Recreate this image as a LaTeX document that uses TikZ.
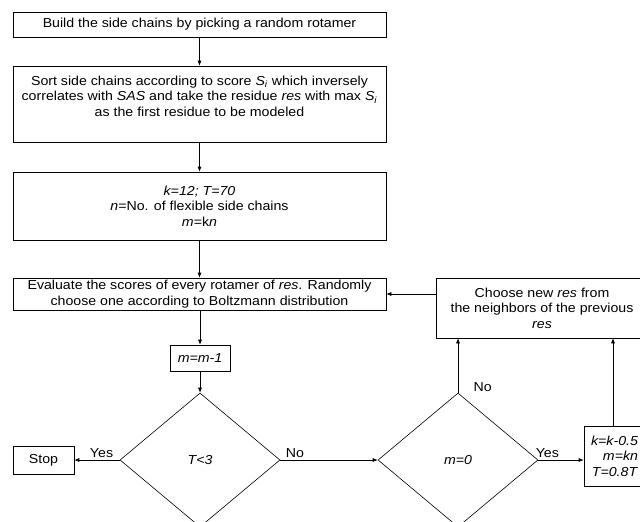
\documentclass[tikz,border=0pt]{standalone}
\usepackage{fontspec}
\setmainfont{Liberation Sans}[FakeStretch=1.09]
\usetikzlibrary{shapes.geometric,arrows.meta}

\tikzset{
  >={Latex[length=5pt,width=4pt]},
  every node/.style={font=\fontsize{13}{15.5}\selectfont},
  box/.style={draw, rectangle, inner sep=0pt, align=center},
  decision/.style={draw, diamond, inner sep=0pt, minimum width=160pt, minimum height=134pt},
  flow/.style={->, line width=0.6pt},
  lbl/.style={above, inner sep=2pt},
}

\begin{document}
\begin{tikzpicture}[x=1pt, y=-1pt, line width=0.6pt]
	\useasboundingbox (0,0) rectangle (640,522);

	% main column
	\node[box, minimum width=373pt, minimum height=25pt] (build) at (199.5,24.5)
		{Build the side chains by picking a random rotamer};
	\node[box, minimum width=373pt, minimum height=76pt] (sort) at (199.5,104)
		{Sort side chains according to score \textit{S}\textsubscript{\textit{i}} which inversely\\
		 correlates with \textit{SAS} and take the residue \textit{res} with max \textit{S}\textsubscript{\textit{i}}\\
		 as the first residue to be modeled\\ \mbox{}};
	\node[box, minimum width=373pt, minimum height=68pt] (init) at (199.5,206)
		{\textit{k=12; T=70}\\ \textit{n}=No. of flexible side chains\\ \textit{m}=k\textit{n}};
	\node[box, minimum width=373pt, minimum height=32pt] (eval) at (199.5,294)
		{Evaluate the scores of every rotamer of \textit{res}. Randomly\\ choose one according to Boltzmann distribution};
	\node[box, minimum width=60pt, minimum height=26pt] (dec) at (200,358) {\textit{m=m-1}};
	\node[decision] (tcheck) at (200,460) {\textit{T<3}};
	\node[box, minimum width=61pt, minimum height=28pt] (stop) at (43.5,460) {Stop};

	% right loop
	\node[decision] (mcheck) at (458,460) {\textit{m=0}};
	\node[box, minimum width=212pt, minimum height=60pt] (choose) at (542,308)
		{Choose new \textit{res} from\\ the neighbors of the previous\\ \textit{res}};
	\node[box, minimum width=58pt, minimum height=60pt, align=right, text width=50pt] (update) at (613,456)
		{\textit{k=k-0.5}\\ \textit{m=kn}\\ \textit{T=0.8T}};

	\draw[flow] (build) -- (sort);
	\draw[flow] (sort) -- (init);
	\draw[flow] (init) -- (eval);
	\draw[flow] (eval.south -| dec.north) -- (dec);
	\draw[flow] (dec) -- (tcheck);
	\draw[flow] (tcheck) -- node[lbl, pos=0.4]{Yes} (stop);
	\draw[flow] (tcheck.east) -- node[lbl, pos=0.15]{No} (mcheck.west);
	\draw[flow] (mcheck.north) -- node[right=12pt, pos=0.1]{No} (choose.south -| mcheck.north);
	\draw[flow] (mcheck.east) -- node[lbl, pos=0.2]{Yes} (mcheck.east -| update.west);
	\draw[flow] (update.north) -- (update.north |- choose.south);
	\draw[flow] (choose.west |- eval.east) -- (eval.east);
\end{tikzpicture}
\end{document}
